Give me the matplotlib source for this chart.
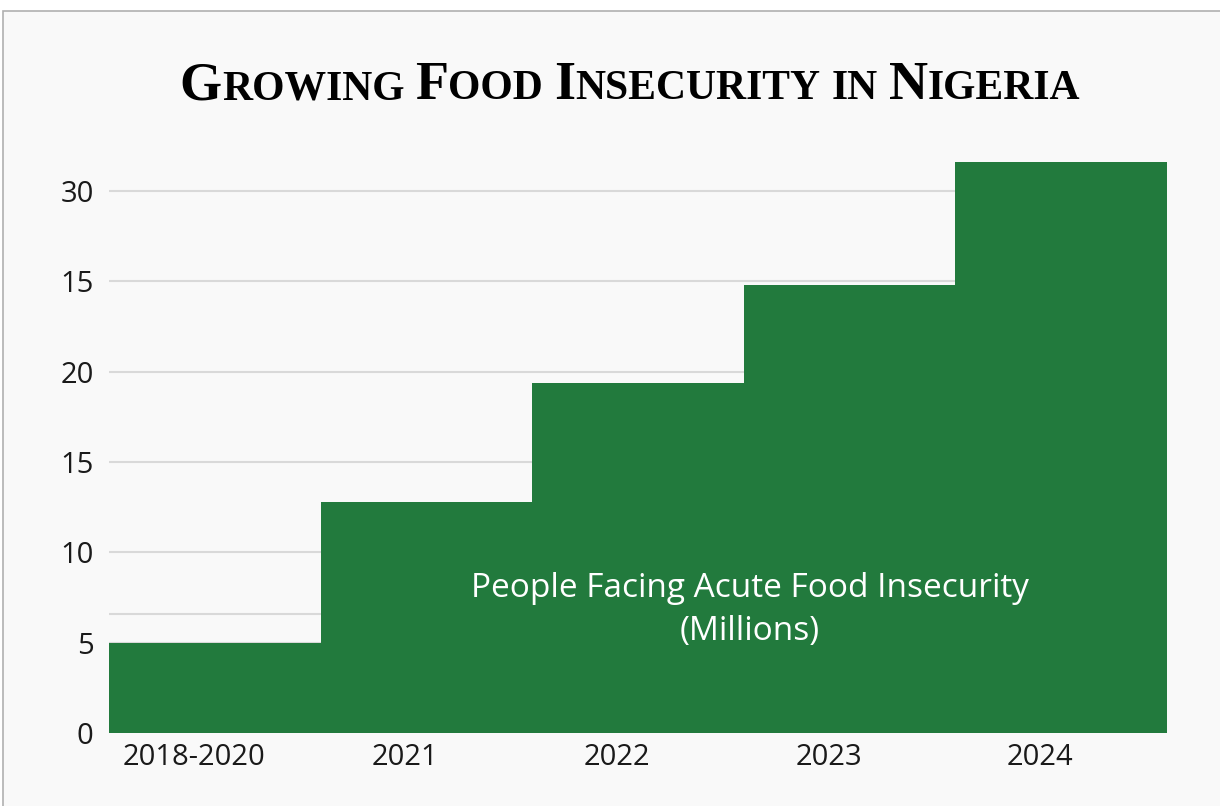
import matplotlib
import matplotlib.pyplot as plt
from matplotlib.patches import Rectangle

matplotlib.use("Agg")

# Data
periods = ["2018-2020", "2021", "2022", "2023", "2024"]
people_millions = [5.0, 12.8, 19.4, 24.8, 31.6]
y_ticks = [0, 5, 10, 15, 20, 25, 30]
y_tick_labels = ["0", "5", "10", "15", "20", "15", "30"]
extra_grid = [6.6]

title_words = ["Growing", "Food", "Insecurity", "in", "Nigeria"]
inner_label = "People Facing Acute Food Insecurity\n(Millions)"

bar_colour = "#227a3d"
grid_colour = "#d9d9d9"
sans = ["Open Sans", "DejaVu Sans"]

W, H, DPI = 1220, 806, 100
fig = plt.figure(figsize=(W / DPI, H / DPI), dpi=DPI, facecolor="white")

# Light panel with a thin grey frame behind everything
fig.patches.append(Rectangle((3 / W, -0.01), 1.0, (H - 11) / H + 0.01,
                             transform=fig.transFigure, facecolor="#f9f9f9",
                             edgecolor="#b0b0b0", linewidth=1.2, zorder=-10))

ax = fig.add_axes([109 / W, (H - 733) / H, (1167 - 109) / W, (733 - 155) / H])
ax.set_facecolor("none")

x = list(range(len(periods)))
ax.bar(x, people_millions, width=1.0, color=bar_colour, zorder=3)
ax.set_xlim(-0.5, len(periods) - 0.5)
ax.set_ylim(0, 32)

ax.set_yticks(y_ticks)
ax.set_yticklabels(y_tick_labels)
ax.set_xticks([i - 0.1 for i in x])
ax.set_xticklabels(periods)
ax.tick_params(axis="both", length=0, labelsize=21, labelcolor="#1a1a1a")
ax.tick_params(axis="y", pad=11)
ax.tick_params(axis="x", pad=7)
for lab in ax.get_xticklabels() + ax.get_yticklabels():
    lab.set_family(sans)

ax.yaxis.grid(True, color=grid_colour, linewidth=1.5, zorder=0)
for g in extra_grid:
    ax.axhline(g, color=grid_colour, linewidth=1.5, zorder=0)
ax.axhline(0, color=grid_colour, linewidth=1.5, zorder=1)
for s in ax.spines.values():
    s.set_visible(False)

ax.text(2.53, 6.8, inner_label, color="white", fontsize=24,
        family=sans, ha="center", va="center", linespacing=1.4, zorder=5)

# Small-caps title built from pieces
big_size, small_size = 39, 30
pieces = []
for w in title_words:
    if w.islower():
        pieces.append((w.upper(), small_size))
    else:
        pieces.append((w[0], big_size))
        pieces.append((w[1:].upper(), small_size))
    pieces.append((None, None))
pieces.pop()

renderer = fig.canvas.get_renderer()
texts = []
for txt, size in pieces:
    if txt is None:
        texts.append(None)
        continue
    t = fig.text(0, (H - 99) / H, txt, fontsize=size, family="Liberation Serif",
                 fontweight="bold", ha="left", va="baseline", color="black")
    texts.append(t)

gap = 11
widths = [gap if t is None else t.get_window_extent(renderer).width for t in texts]
total = sum(widths)
cur = 630 - total / 2
for t, wd in zip(texts, widths):
    if t is not None:
        t.set_x(cur / W)
    cur += wd

fig.savefig("out.png", dpi=DPI, facecolor=fig.get_facecolor())
